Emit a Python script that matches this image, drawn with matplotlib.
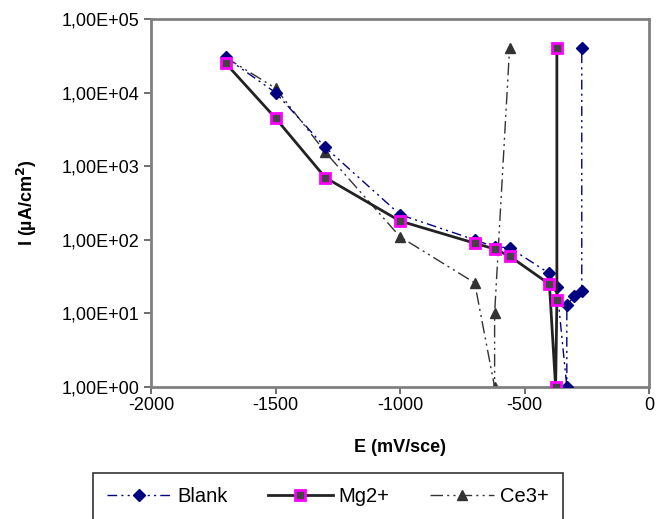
import matplotlib
matplotlib.use("Agg")
import matplotlib.pyplot as plt
from matplotlib.ticker import FixedLocator, FuncFormatter

plt.rcParams['font.family'] = ['Liberation Sans', 'DejaVu Sans']

blank_E = [-1700, -1500, -1300, -1000, -700, -620, -560, -400, -370, -330, -330, -300, -270, -270]
blank_I = [30000, 10000, 1800, 220, 100, 80, 78, 35, 23, 1, 13, 17, 20, 40000]

mg_E = [-1700, -1500, -1300, -1000, -700, -620, -560, -400, -375, -370, -370]
mg_I = [25000, 4500, 700, 180, 90, 75, 60, 25, 1, 15, 40000]

ce_E = [-1700, -1500, -1300, -1000, -700, -620, -620, -560]
ce_I = [30000, 11500, 1550, 110, 26, 1, 10, 40000]

x_ticks = [-2000, -1500, -1000, -500, 0]
y_ticks = [1, 10, 100, 1000, 10000, 100000]
y_labels = ["1,00E+00", "1,00E+01", "1,00E+02", "1,00E+03", "1,00E+04", "1,00E+05"]

fig = plt.figure(figsize=(6.57, 5.19), dpi=100)
ax = fig.add_axes([151/657, 1-387/519, (649-151)/657, (387-19)/519])

ax.plot(blank_E, blank_I, color='#000080', lw=1.0, dashes=(7, 3, 1.5, 3, 1.5, 3),
        marker='D', ms=6.5, mfc='#000080', mec='#000080', label='Blank', zorder=3)
ax.plot(mg_E, mg_I, color='#222222', lw=2.0, ls='-',
        marker='s', ms=7, mfc='#444444', mec='#ff00ff', mew=2.0, label='Mg2+', zorder=4)
ax.plot(ce_E, ce_I, color='#333333', lw=1.0, dashes=(9, 3, 1.5, 3, 1.5, 3),
        marker='^', ms=7.5, mfc='#333333', mec='#333333', label='Ce3+', zorder=2)

ax.set_yscale('log')
ax.set_xlim(-2000, 0)
ax.set_ylim(1, 100000)
ax.xaxis.set_major_locator(FixedLocator(x_ticks))
ax.set_xticklabels([str(t) for t in x_ticks])
ax.yaxis.set_major_locator(FixedLocator(y_ticks))
ax.yaxis.set_major_formatter(FuncFormatter(lambda v, p: y_labels[y_ticks.index(int(round(v)))] if int(round(v)) in y_ticks else ''))
ax.yaxis.set_minor_locator(FixedLocator([]))
ax.tick_params(axis='both', labelsize=13, color='#555555', length=5, width=1.2, direction='out')
ax.tick_params(axis='x', pad=2)

for s in ax.spines.values():
    s.set_color('#808080')
    s.set_linewidth(2)

ax.set_xlabel('E (mV/sce)', fontsize=13, fontweight='bold', labelpad=18)
ax.set_ylabel('I (µA/cm$^\\mathbf{2}$)', fontsize=13, fontweight='bold', labelpad=16)

leg = fig.legend(loc='upper left', bbox_to_anchor=(93/657, 1-473/519), ncol=3,
                 fontsize=14.5, frameon=True, fancybox=False, edgecolor='black',
                 handlelength=3.2, columnspacing=2.0, borderpad=0.7, handletextpad=0.3,
                 borderaxespad=0)
leg.get_frame().set_linewidth(1.2)

fig.savefig('out.png', dpi=100)
